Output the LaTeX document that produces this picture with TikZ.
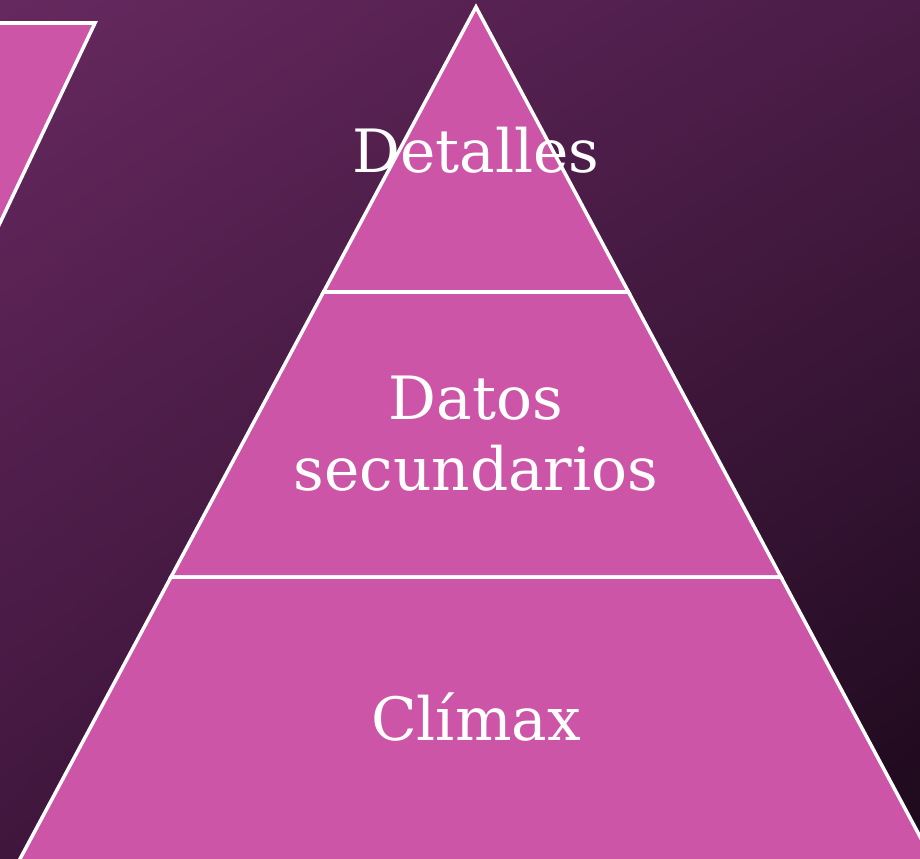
\documentclass[tikz,border=0pt]{standalone}
\usepackage{fontspec}
\setmainfont{DejaVu Serif}
\usepackage{tikz}
\usetikzlibrary{positioning,shadings}
\definecolor{bgul}{HTML}{66295F}
\definecolor{bgur}{HTML}{4A1C47}
\definecolor{bgll}{HTML}{40163D}
\definecolor{bglr}{HTML}{1C091B}
\definecolor{pyrfill}{HTML}{CD55A8}

\begin{document}
\begin{tikzpicture}[
  x=0.02cm, y=-0.02cm,
  tier/.style={fill=pyrfill, draw=white, line width=2pt, line join=miter},
  lbl/.style={text=white, font=\fontsize{34}{40}\selectfont, align=center, inner sep=0pt},
]
  \useasboundingbox (0,0) rectangle (920,859);
  \clip (0,0) rectangle (920,859);

  % Background
  \shade[upper left=bgul, upper right=bgur, lower left=bgll, lower right=bglr]
    (0,0) rectangle (920,859);

  % Left shape, cut off by the edge
  \path[tier] (-10,23) -- (95,23) -- (-10,244) -- cycle;

  % Pyramid corners
  \coordinate (apex) at (476,7);
  \coordinate (l1) at (323.5,292);
  \coordinate (r1) at (628.5,292);
  \coordinate (l2) at (171,577);
  \coordinate (r2) at (781,577);
  \coordinate (l3) at (-2,900);
  \coordinate (r3) at (954,900);

  % Tiers
  \path[tier] (apex) -- (r1) -- (l1) -- cycle;
  \path[tier] (l1) -- (r1) -- (r2) -- (l2) -- cycle;
  \path[tier] (l2) -- (r2) -- (r3) -- (l3) -- cycle;

  % Labels
  \node[lbl, anchor=base] (detalles) at (476,172) {Detalles};
  \node[lbl, anchor=base] (datos) at (476,490) {Datos\\secundarios};
  \node[lbl, anchor=base] (climax) at (476,740) {Clímax};
\end{tikzpicture}
\end{document}
